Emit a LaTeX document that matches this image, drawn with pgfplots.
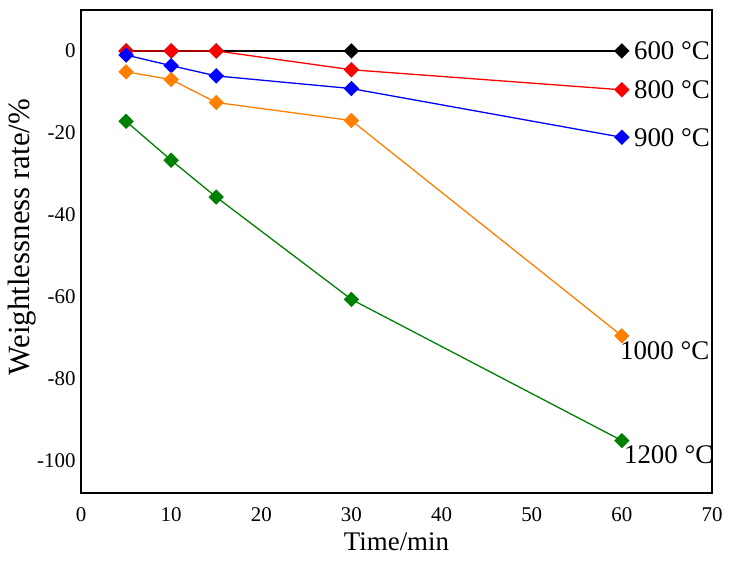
\documentclass[border=0pt]{standalone}
\usepackage{fontspec}
\setmainfont{Liberation Serif}
\usepackage{pgfplots}
\pgfplotsset{compat=1.18}
\definecolor{cOrange}{RGB}{255,128,0}
\definecolor{cGreen}{RGB}{0,128,0}
\begin{document}
\begin{tikzpicture}
\useasboundingbox (-81bp,-72bp) rectangle (650bp,493bp);
\begin{axis}[
  at={(0,0)}, anchor=south west,
  scale only axis, width=631bp, height=483bp,
  xmin=0, xmax=70, ymin=-108, ymax=10,
  xtick={0,10,...,70}, ytick={-100,-80,...,0},
  major tick length=0pt,
  axis line style={line width=1.4bp},
  /pgf/number format/assume math mode=true,
  tick label style={font=\fontsize{21}{24}\selectfont},
  xticklabel style={yshift=-11bp},
  yticklabel style={xshift=-2bp},
  xlabel={Time/min},
  ylabel={Weightlessness rate/\%},
  xlabel style={font=\fontsize{27}{30}\selectfont, yshift=-4bp},
  ylabel style={font=\fontsize{31}{36}\selectfont, at={(ticklabel cs:0.53)}, yshift=-6bp},
  every axis plot/.append style={line width=1.3bp, mark=square*, mark size=4.8bp, mark options={rotate=45, solid}},
  clip=false,
]
\addplot[black] coordinates {(5,0) (10,0) (15,0) (30,0) (60,0)};
\addplot[red] coordinates {(5,0) (10,0) (15,0) (30,-4.6) (60,-9.5)};
\addplot[blue] coordinates {(5,-1.0) (10,-3.6) (15,-6.1) (30,-9.2) (60,-21.1)};
\addplot[cOrange] coordinates {(5,-5.1) (10,-7.0) (15,-12.6) (30,-17.0) (60,-69.6)};
\addplot[cGreen] coordinates {(5,-17.2) (10,-26.7) (15,-35.7) (30,-60.7) (60,-95.2)};
\begin{scope}[every node/.style={font=\fontsize{27}{30}\selectfont, inner sep=0pt}]
\node[anchor=west, xshift=12bp] at (axis cs:60,0) {600 °C};
\node[anchor=west, xshift=12bp] at (axis cs:60,-9.5) {800 °C};
\node[anchor=west, xshift=12bp] at (axis cs:60,-21.1) {900 °C};
\node[anchor=north west, xshift=-2bp, yshift=-6bp] at (axis cs:60,-69.6) {1000 °C};
\node[anchor=north west, xshift=2bp, yshift=-5bp] at (axis cs:60,-95.2) {1200 °C};
\end{scope}
\end{axis}
\end{tikzpicture}
\end{document}
